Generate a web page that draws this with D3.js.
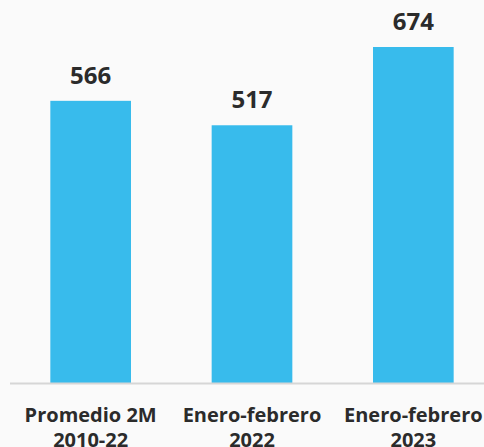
<!DOCTYPE html>
<html><head><meta charset="utf-8">
<script src="https://cdn.jsdelivr.net/npm/d3@7"></script>
<style>body{margin:0;background:#fafafa;}svg{display:block;}</style>
</head><body>
<script>
const categories = [["Promedio 2M","2010-22"],["Enero-febrero","2022"],["Enero-febrero","2023"]];
const values = [566, 517, 674];

const W = 484, H = 447;
const svg = d3.select("body").append("svg").attr("width", W).attr("height", H);
svg.append("rect").attr("width", W).attr("height", H).attr("fill", "#fafafa");

const x = d3.scaleBand().domain(d3.range(categories.length)).range([10, 494]).paddingInner(0.5).paddingOuter(0.25);
const y = d3.scaleLinear().domain([0, 674]).range([383, 47]);

svg.selectAll("rect.bar").data(values).join("rect").attr("class","bar")
  .attr("x", (d,i)=>x(i)).attr("width", x.bandwidth())
  .attr("y", d=>y(d)).attr("height", d=>y(0)-y(d)).attr("fill", "#38bbec");

svg.append("line").attr("x1", 10).attr("x2", W).attr("y1", y(0)+0.5).attr("y2", y(0)+0.5)
  .attr("stroke", "#d6d6d6").attr("stroke-width", 2);

svg.selectAll("text.val").data(values).join("text").attr("class","val")
  .attr("x", (d,i)=>x(i)+x.bandwidth()/2).attr("y", d=>y(d)-17)
  .attr("text-anchor","middle").attr("font-family","Open Sans").attr("font-weight",700)
  .attr("font-size", 24).attr("fill","#2b2b2b").text(d=>d);

const g = svg.selectAll("text.cat").data(categories).join("text").attr("class","cat")
  .attr("x", (d,i)=>x(i)+x.bandwidth()/2).attr("y", 421.5)
  .attr("text-anchor","middle").attr("font-family","Open Sans").attr("font-weight",700)
  .attr("font-size", 20).attr("fill","#2b2b2b");
g.selectAll("tspan").data(d=>d).join("tspan")
  .attr("x", function(){return this.parentNode.getAttribute("x");})
  .attr("dy", (d,i)=> i===0 ? 0 : 25).text(d=>d);
</script>
</body></html>
